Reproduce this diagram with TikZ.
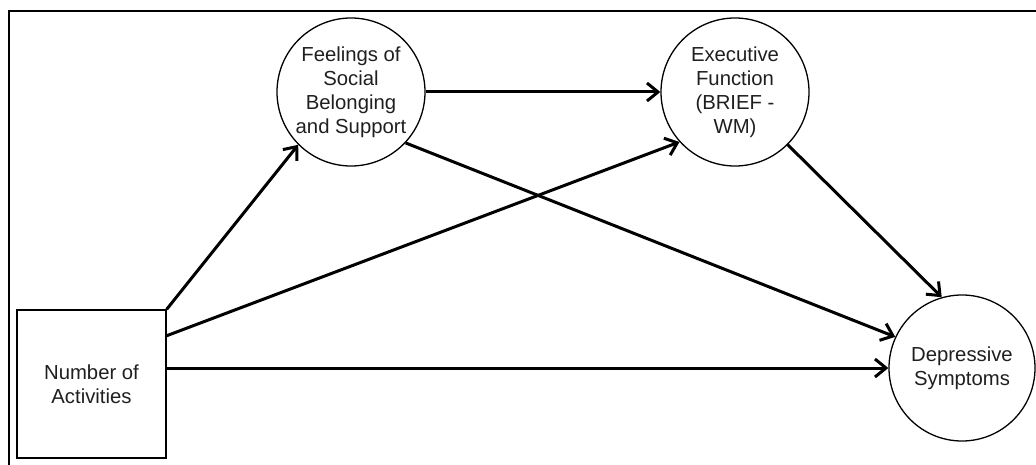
\documentclass[tikz,border=0pt]{standalone}
\usepackage{fontspec}
\setmainfont{Liberation Sans}
\usetikzlibrary{arrows.meta}
\begin{document}
\begin{tikzpicture}[x=1pt,y=-1pt,
  txt/.style={font=\fontsize{20.3}{24}\selectfont, align=center, text=black!88},
  latent/.style={circle, draw, line width=1.3pt, minimum size=148pt, inner sep=0pt, txt},
  observed/.style={rectangle, draw, line width=1.3pt, minimum width=149pt, minimum height=148pt, inner sep=0pt, txt},
  path/.style={line width=3pt, -{Straight Barb[length=11pt,width=18pt]}},
  frame/.style={line width=2.6pt}]
\useasboundingbox (0,0) rectangle (1036,465);
\coordinate (fbl) at (9,466);
\coordinate (ftl) at (9,11);
\coordinate (ftr) at (1037,11);
\draw[frame] (fbl) -- (ftl) -- (ftr);
\node[observed] (act) at (91.5,384) {Number of\\Activities};
\node[latent] (feel) at (351,92) {Feelings of\\Social\\Belonging\\and Support};
\node[latent] (exec) at (735,92) {Executive\\Function\\(BRIEF -\\WM)};
\node[latent, minimum size=146pt] (dep) at (962,368) {Depressive\\Symptoms};
\coordinate (r2) at (166,336);
\coordinate (r3) at (166,368);
\draw[path] (act.north east) -- (feel.225);
\draw[path] (r2) -- (exec.222);
\draw[path] (r3) -- (dep.west);
\draw[path] (feel) -- (exec);
\draw[path] (feel.317) -- (dep.155);
\draw[path] (exec.315) -- (dep.106);
\end{tikzpicture}
\end{document}
